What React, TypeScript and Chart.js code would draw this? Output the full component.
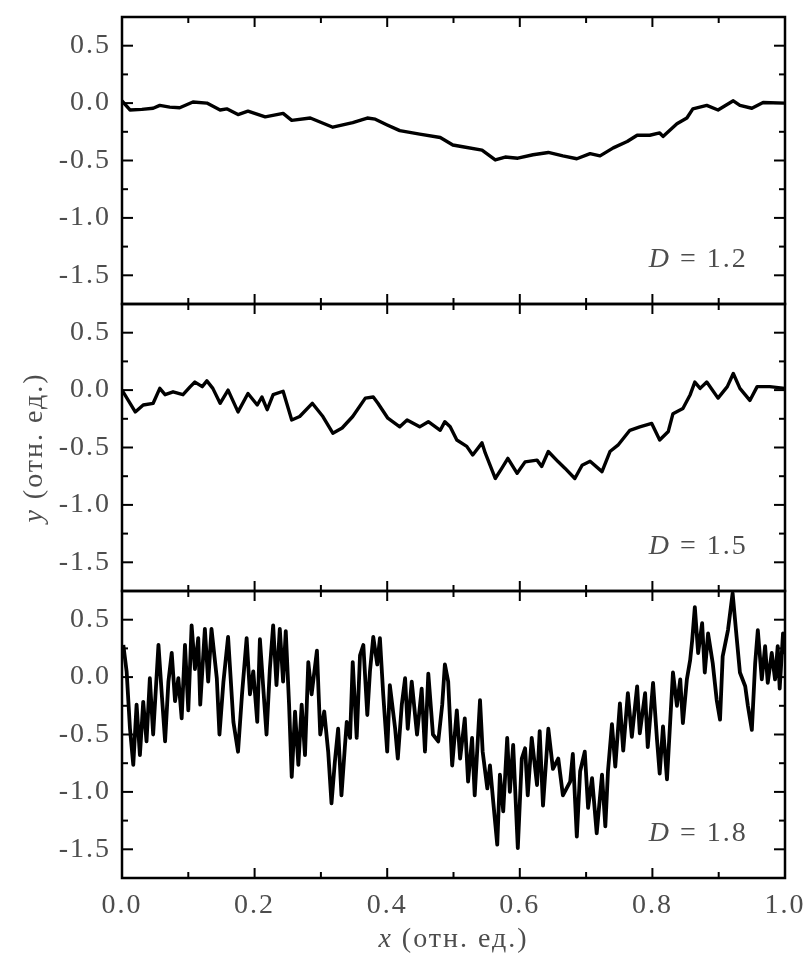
import React, { useEffect, useRef } from "react";
import { Chart, registerables } from "chart.js";

Chart.register(...registerables);

const FONT = "'Liberation Serif', 'Times New Roman', serif";
const TEXT_COLOR = "#4d4d4d";
const FONT_SIZE = 28;
const LETTER_SPACING = "2px";

const xRange = [0, 1];
const yRange = [-1.75, 0.75];
const xTickValues = [0, 0.2, 0.4, 0.6, 0.8, 1.0];
const yTickValues = [-1.5, -1.0, -0.5, 0.0, 0.5];
const xMinorStep = 0.1;
const yMinorStep = 0.25;

const panelDValues = ["1.2", "1.5", "1.8"];
const xAxisTitleVar = "x";
const yAxisTitleVar = "y";
const axisTitleUnit = " (отн. ед.)";

// D = 1.2
const xD12 = [0.0, 0.012, 0.03, 0.047, 0.057, 0.072, 0.087, 0.107, 0.128, 0.148, 0.158, 0.175, 0.19, 0.216, 0.243, 0.256, 0.284, 0.318, 0.348, 0.37, 0.382, 0.4, 0.419, 0.449, 0.48, 0.499, 0.514, 0.543, 0.563, 0.578, 0.597, 0.62, 0.643, 0.665, 0.686, 0.706, 0.721, 0.741, 0.762, 0.777, 0.796, 0.811, 0.816, 0.837, 0.852, 0.861, 0.882, 0.899, 0.922, 0.932, 0.95, 0.967, 1.0];
const yD12 = [0.02, -0.06, -0.055, -0.045, -0.02, -0.035, -0.04, 0.01, 0.0, -0.06, -0.05, -0.1, -0.07, -0.12, -0.09, -0.15, -0.13, -0.21, -0.17, -0.13, -0.14, -0.19, -0.24, -0.27, -0.3, -0.365, -0.38, -0.41, -0.495, -0.47, -0.48, -0.45, -0.43, -0.46, -0.485, -0.44, -0.46, -0.39, -0.335, -0.28, -0.28, -0.26, -0.29, -0.18, -0.13, -0.05, -0.02, -0.06, 0.02, -0.02, -0.045, 0.005, 0.0];

// D = 1.5
const xD15 = [0.0, 0.02, 0.032, 0.047, 0.057, 0.065, 0.077, 0.092, 0.103, 0.11, 0.121, 0.128, 0.137, 0.148, 0.16, 0.175, 0.19, 0.204, 0.211, 0.219, 0.228, 0.243, 0.256, 0.268, 0.287, 0.303, 0.318, 0.332, 0.348, 0.367, 0.379, 0.386, 0.401, 0.419, 0.43, 0.449, 0.462, 0.48, 0.487, 0.495, 0.505, 0.52, 0.529, 0.543, 0.548, 0.563, 0.573, 0.582, 0.596, 0.608, 0.626, 0.633, 0.643, 0.658, 0.668, 0.683, 0.694, 0.706, 0.724, 0.736, 0.748, 0.766, 0.781, 0.799, 0.811, 0.824, 0.831, 0.846, 0.857, 0.864, 0.872, 0.882, 0.899, 0.913, 0.922, 0.932, 0.947, 0.958, 0.977, 1.0];
const yD15 = [0.0, -0.19, -0.13, -0.115, 0.015, -0.04, -0.015, -0.04, 0.03, 0.07, 0.03, 0.08, 0.015, -0.115, 0.0, -0.19, -0.03, -0.13, -0.06, -0.17, -0.04, -0.01, -0.26, -0.23, -0.115, -0.23, -0.375, -0.33, -0.23, -0.07, -0.06, -0.115, -0.245, -0.32, -0.26, -0.32, -0.275, -0.35, -0.275, -0.32, -0.435, -0.49, -0.565, -0.46, -0.55, -0.77, -0.68, -0.595, -0.725, -0.625, -0.61, -0.665, -0.535, -0.625, -0.68, -0.77, -0.655, -0.62, -0.71, -0.535, -0.48, -0.35, -0.32, -0.29, -0.435, -0.36, -0.205, -0.16, -0.04, 0.07, 0.015, 0.07, -0.07, 0.03, 0.145, 0.015, -0.09, 0.03, 0.03, 0.015];

// D = 1.8
const xD18 = [0.002, 0.007, 0.012, 0.017, 0.022, 0.027, 0.032, 0.037, 0.042, 0.047, 0.055, 0.06, 0.065, 0.07, 0.075, 0.08, 0.085, 0.09, 0.095, 0.1, 0.105, 0.11, 0.115, 0.118, 0.125, 0.13, 0.135, 0.143, 0.147, 0.153, 0.16, 0.168, 0.175, 0.181, 0.188, 0.193, 0.198, 0.204, 0.208, 0.213, 0.218, 0.223, 0.228, 0.233, 0.238, 0.243, 0.247, 0.252, 0.256, 0.261, 0.266, 0.271, 0.276, 0.281, 0.286, 0.294, 0.299, 0.305, 0.311, 0.316, 0.321, 0.326, 0.331, 0.336, 0.339, 0.344, 0.348, 0.354, 0.359, 0.364, 0.37, 0.374, 0.379, 0.385, 0.389, 0.394, 0.4, 0.404, 0.412, 0.416, 0.422, 0.427, 0.431, 0.437, 0.445, 0.452, 0.457, 0.462, 0.469, 0.477, 0.483, 0.487, 0.492, 0.498, 0.505, 0.51, 0.517, 0.522, 0.528, 0.532, 0.54, 0.544, 0.551, 0.555, 0.56, 0.566, 0.57, 0.575, 0.581, 0.585, 0.59, 0.597, 0.603, 0.608, 0.612, 0.618, 0.626, 0.63, 0.635, 0.643, 0.65, 0.658, 0.665, 0.676, 0.68, 0.686, 0.691, 0.698, 0.703, 0.709, 0.716, 0.724, 0.729, 0.733, 0.739, 0.744, 0.751, 0.756, 0.763, 0.769, 0.777, 0.781, 0.789, 0.793, 0.801, 0.807, 0.811, 0.816, 0.822, 0.827, 0.831, 0.837, 0.842, 0.846, 0.852, 0.857, 0.86, 0.864, 0.869, 0.875, 0.879, 0.884, 0.891, 0.897, 0.902, 0.906, 0.914, 0.921, 0.927, 0.932, 0.94, 0.944, 0.95, 0.955, 0.959, 0.965, 0.97, 0.974, 0.98, 0.985, 0.989, 0.992, 0.997, 1.0];
const yD18 = [0.28, 0.047, -0.446, -0.765, -0.24, -0.68, -0.215, -0.56, -0.01, -0.5, 0.28, -0.15, -0.56, -0.04, 0.21, -0.21, -0.01, -0.36, 0.28, -0.29, 0.45, 0.07, 0.34, -0.24, 0.42, -0.04, 0.42, -0.01, -0.5, -0.04, 0.35, -0.39, -0.65, -0.15, 0.34, -0.15, 0.05, -0.39, 0.33, -0.09, -0.5, 0.07, 0.45, -0.07, 0.42, -0.04, 0.4, -0.24, -0.87, -0.3, -0.765, -0.24, -0.68, 0.13, -0.15, 0.23, -0.5, -0.3, -0.65, -1.1, -0.74, -0.45, -1.03, -0.62, -0.39, -0.53, 0.13, -0.53, 0.19, 0.28, -0.33, 0.05, 0.35, 0.11, 0.34, -0.15, -0.65, -0.07, -0.45, -0.71, -0.24, -0.01, -0.45, -0.04, -0.5, -0.1, -0.65, 0.03, -0.5, -0.56, -0.24, 0.11, -0.04, -0.77, -0.29, -0.71, -0.36, -0.91, -0.53, -1.03, -0.2, -0.65, -0.97, -0.77, -1.09, -1.46, -0.85, -1.17, -0.53, -1.0, -0.59, -1.49, -0.71, -0.62, -1.03, -0.53, -0.94, -0.47, -1.12, -0.45, -0.8, -0.71, -1.03, -0.91, -0.67, -1.39, -0.82, -0.65, -1.14, -0.88, -1.36, -0.85, -1.3, -0.82, -0.41, -0.78, -0.23, -0.64, -0.14, -0.52, -0.08, -0.49, -0.14, -0.61, -0.05, -0.55, -0.84, -0.43, -0.89, -0.37, 0.04, -0.25, -0.02, -0.4, -0.02, 0.15, 0.32, 0.61, 0.21, 0.47, 0.04, 0.38, 0.12, -0.2, -0.37, 0.18, 0.41, 0.73, 0.35, 0.04, -0.08, -0.25, -0.46, 0.12, 0.41, -0.02, 0.27, -0.05, 0.21, -0.02, 0.27, -0.1, 0.38, 0.2];

// top-to-bottom panel axes
const panelAxisIds = ["yA", "yB", "yC"];
const labelAnchorX = 0.944;
const labelAnchorY = -1.36;

function toPoints(xs: number[], ys: number[]) {
  return xs.map((x, i) => ({ x, y: ys[i] }));
}

const decorPlugin = {
  id: "decor",
  beforeLayout(chart: any) {
    chart.ctx.letterSpacing = LETTER_SPACING;
  },
  beforeDraw(chart: any) {
    const ctx = chart.ctx;
    ctx.letterSpacing = LETTER_SPACING;
    ctx.save();
    ctx.fillStyle = "#fff";
    ctx.fillRect(0, 0, chart.width, chart.height);
    ctx.restore();
  },
  afterDatasetsDraw(chart: any) {
    const ctx = chart.ctx;
    const area = chart.chartArea;
    const xs = chart.scales.x;
    ctx.save();
    ctx.strokeStyle = "#000";
    ctx.lineCap = "butt";
    const seg = (x1: number, y1: number, x2: number, y2: number) => {
      ctx.beginPath();
      ctx.moveTo(x1, y1);
      ctx.lineTo(x2, y2);
      ctx.stroke();
    };
    panelAxisIds.forEach((id, i) => {
      const ys = chart.scales[id];
      const top = ys.top;
      const bottom = ys.bottom;
      ctx.lineWidth = 2.5;
      ctx.strokeRect(area.left, top, area.right - area.left, bottom - top);
      ctx.lineWidth = 2;
      const nY = Math.round((yRange[1] - yRange[0]) / yMinorStep);
      for (let k = 1; k < nY; k++) {
        const v = yRange[0] + k * yMinorStep;
        const major = yTickValues.some((t) => Math.abs(t - v) < 1e-6);
        const len = major ? 11 : 6;
        const py = ys.getPixelForValue(v);
        seg(area.left, py, area.left + len, py);
        seg(area.right, py, area.right - len, py);
      }
      const nX = Math.round((xRange[1] - xRange[0]) / xMinorStep);
      for (let k = 1; k < nX; k++) {
        const v = xRange[0] + k * xMinorStep;
        const major = xTickValues.some((t) => Math.abs(t - v) < 1e-6);
        const len = major ? 10 : 6;
        const px = xs.getPixelForValue(v);
        seg(px, top, px, top + len);
        seg(px, bottom, px, bottom - len);
      }
      // panel label
      ctx.fillStyle = TEXT_COLOR;
      ctx.textBaseline = "middle";
      ctx.textAlign = "left";
      ctx.letterSpacing = LETTER_SPACING;
      ctx.font = `italic ${FONT_SIZE}px ${FONT}`;
      const wD = ctx.measureText("D").width;
      ctx.font = `${FONT_SIZE}px ${FONT}`;
      const rest = " = " + panelDValues[i];
      const wR = ctx.measureText(rest).width;
      const right = xs.getPixelForValue(labelAnchorX);
      const py = ys.getPixelForValue(labelAnchorY);
      const startX = right - wD - wR;
      ctx.font = `italic ${FONT_SIZE}px ${FONT}`;
      ctx.fillText("D", startX, py);
      ctx.font = `${FONT_SIZE}px ${FONT}`;
      ctx.fillText(rest, startX + wD, py);
    });

    // axis titles
    ctx.fillStyle = TEXT_COLOR;
    ctx.textBaseline = "middle";
    ctx.textAlign = "left";
    const drawTitle = (v: string, cx: number, cy: number, rot: number) => {
      ctx.save();
      ctx.translate(cx, cy);
      ctx.rotate(rot);
      ctx.font = `italic ${FONT_SIZE}px ${FONT}`;
      const wv = ctx.measureText(v).width;
      ctx.font = `${FONT_SIZE}px ${FONT}`;
      const wu = ctx.measureText(axisTitleUnit).width;
      const sx = -(wv + wu) / 2;
      ctx.font = `italic ${FONT_SIZE}px ${FONT}`;
      ctx.fillText(v, sx, 0);
      ctx.font = `${FONT_SIZE}px ${FONT}`;
      ctx.fillText(axisTitleUnit, sx + wv, 0);
      ctx.restore();
    };
    drawTitle(xAxisTitleVar, (area.left + area.right) / 2, 940, 0);
    drawTitle(yAxisTitleVar, 35, (area.top + area.bottom) / 2, -Math.PI / 2);
    ctx.restore();
  },
};

function yScale() {
  return {
    type: "linear",
    position: "left",
    stack: "panels",
    stackWeight: 1,
    offset: false,
    min: yRange[0],
    max: yRange[1],
    grid: { display: false, drawTicks: false },
    border: { display: false },
    afterBuildTicks: (scale: any) => {
      scale.ticks = yTickValues.map((v) => ({ value: v }));
    },
    afterFit: (scale: any) => {
      scale.width = 122;
      scale.paddingTop = 0;
      scale.paddingBottom = 0;
      scale.paddingLeft = 0;
      scale.paddingRight = 0;
    },
    ticks: {
      callback: (v: any) => Number(v).toFixed(1),
      font: { family: FONT, size: FONT_SIZE },
      color: TEXT_COLOR,
      padding: 11,
      autoSkip: false,
    },
  };
}

export default function App() {
  const canvasRef = useRef<HTMLCanvasElement | null>(null);

  useEffect(() => {
    if (!canvasRef.current) return;
    const line = (xs: number[], ys: number[], axis: string, w: number) => ({
      data: toPoints(xs, ys),
      yAxisID: axis,
      xAxisID: "x",
      borderColor: "#000",
      backgroundColor: "#000",
      borderWidth: w,
      pointRadius: 0,
      tension: 0,
      fill: false,
      borderJoinStyle: "round",
    });
    const chart = new Chart(canvasRef.current, {
      type: "line",
      data: {
        datasets: [
          line(xD12, yD12, "yA", 3.4),
          line(xD15, yD15, "yB", 3.4),
          line(xD18, yD18, "yC", 3.8),
        ],
      },
      options: {
        animation: false,
        responsive: false,
        devicePixelRatio: 1,
        layout: { padding: { left: 0, right: 24, top: 17, bottom: 0 } },
        plugins: { legend: { display: false }, tooltip: { enabled: false } },
        events: [],
        // stacked left axes are laid out last-defined on top, so define bottom panel first
        scales: {
          x: {
            type: "linear",
            position: "bottom",
            min: xRange[0],
            max: xRange[1],
            grid: { display: false, drawTicks: false },
            border: { display: false },
            afterBuildTicks: (scale: any) => {
              scale.ticks = xTickValues.map((v) => ({ value: v }));
            },
            afterFit: (scale: any) => {
              scale.height = 85;
              scale.paddingLeft = 0;
              scale.paddingRight = 0;
              scale.paddingTop = 0;
              scale.paddingBottom = 0;
            },
            ticks: {
              callback: (v: any) => Number(v).toFixed(1),
              font: { family: FONT, size: FONT_SIZE },
              color: TEXT_COLOR,
              padding: 11,
              autoSkip: false,
              maxRotation: 0,
            },
          },
          yC: yScale(),
          yB: yScale(),
          yA: yScale(),
        } as any,
      },
      plugins: [decorPlugin],
    } as any);
    return () => chart.destroy();
  }, []);

  return (
    <div style={{ position: "absolute", left: 0, top: 0, width: 809, height: 963, background: "#fff" }}>
      <canvas ref={canvasRef} width={809} height={963} style={{ display: "block" }} />
    </div>
  );
}
